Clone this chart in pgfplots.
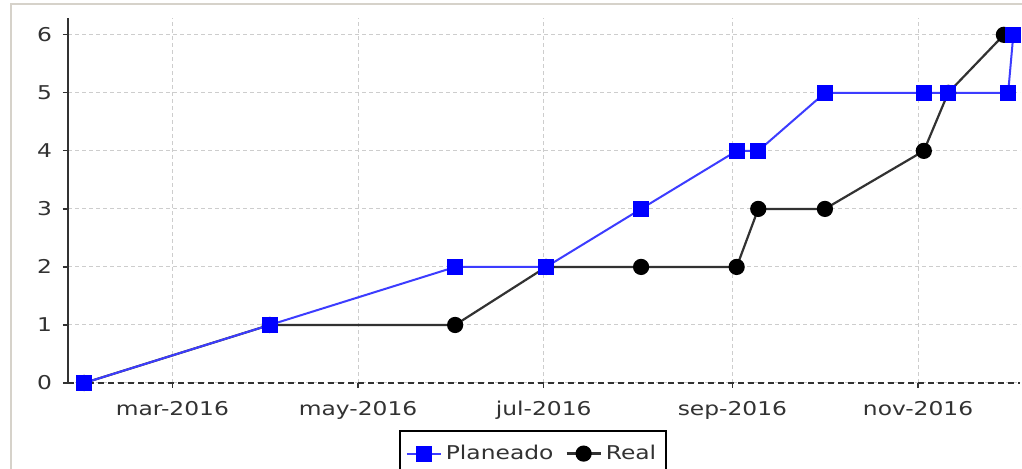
\documentclass[border=0pt]{standalone}
\usepackage{fontspec}
\setmainfont{DejaVu Sans}
\newfontfamily\chartfont[FakeStretch=1.23]{DejaVu Sans}
\usepackage{pgfplots}
\pgfplotsset{compat=1.18}

\definecolor{panelframe}{RGB}{214,210,202}
\definecolor{planmark}{RGB}{0,0,255}
\definecolor{planline}{RGB}{60,60,255}
\definecolor{realline}{RGB}{50,50,50}
\definecolor{gridgray}{RGB}{205,205,205}
\definecolor{ticktext}{RGB}{50,50,50}

\begin{document}
\begin{tikzpicture}[x=1pt,y=1pt]
\useasboundingbox (0,0) rectangle (511,234.5);
\fill[white] (0,0) rectangle (511,234.5);
\draw[panelframe, line width=1pt] (5.5,0) -- (5.5,232.5) -- (511,232.5);

\begin{axis}[
    at={(34pt,43pt)}, anchor=south west,
    scale only axis,
    width=476pt, height=182.5pt,
    xmin=25.7, xmax=338.5,
    ymin=0, ymax=6.29,
    axis x line*=bottom,
    axis y line*=left,
    x axis line style={-, realline, densely dashed, line width=0.8pt},
    y axis line style={-, realline, line width=1pt},
    xtick={60,121,182,244,305},
    xticklabels={mar-2016,may-2016,jul-2016,sep-2016,nov-2016},
    ytick={0,1,2,3,4,5,6},
    tick align=outside,
    major tick length=2.5pt,
    tick style={realline, line width=0.6pt},
    grid=major,
    major grid style={gridgray, dash pattern=on 2pt off 1.5pt, line width=0.5pt},
    ticklabel style={font=\chartfont\fontsize{9.5}{10}\selectfont, text=ticktext},
    /pgf/number format/assume math mode=true,
    xticklabel style={yshift=-3pt},
    yticklabel style={xshift=-2pt},
    legend columns=2,
    reverse legend,
    legend style={
        at={(0.4884,-0.129)}, anchor=north,
        draw=black, line width=0.8pt,
        font=\chartfont\fontsize{9.5}{10}\selectfont,
        text=ticktext,
        inner xsep=3pt, inner ysep=5pt,
        /tikz/every even column/.append style={column sep=4pt},
    },
    legend cell align=left,
    clip=false,
]

% Real (dibujada primero: los cuadrados azules quedan encima)
\addplot[realline, line width=1.1pt, mark=*, mark size=3.5pt,
    mark options={fill=black, draw=black, solid}]
coordinates {
    (31,0) (92,1) (152.9,1) (182.8,2) (214,2) (245.4,2)
    (252.5,3) (274.4,3) (306.9,4) (314.9,5) (333.2,6)
};

% Planeado
\addplot[planline, line width=1pt, mark=square*, mark size=3.5pt,
    mark options={fill=planmark, draw=planmark, solid}]
coordinates {
    (31,0) (92,1) (153,2) (182.8,2) (214,3) (245.4,4)
    (252.5,4) (274.4,5) (306.9,5) (314.9,5) (334.6,5) (336.3,6)
};

\legend{Real, Planeado}
\end{axis}
\end{tikzpicture}
\end{document}
